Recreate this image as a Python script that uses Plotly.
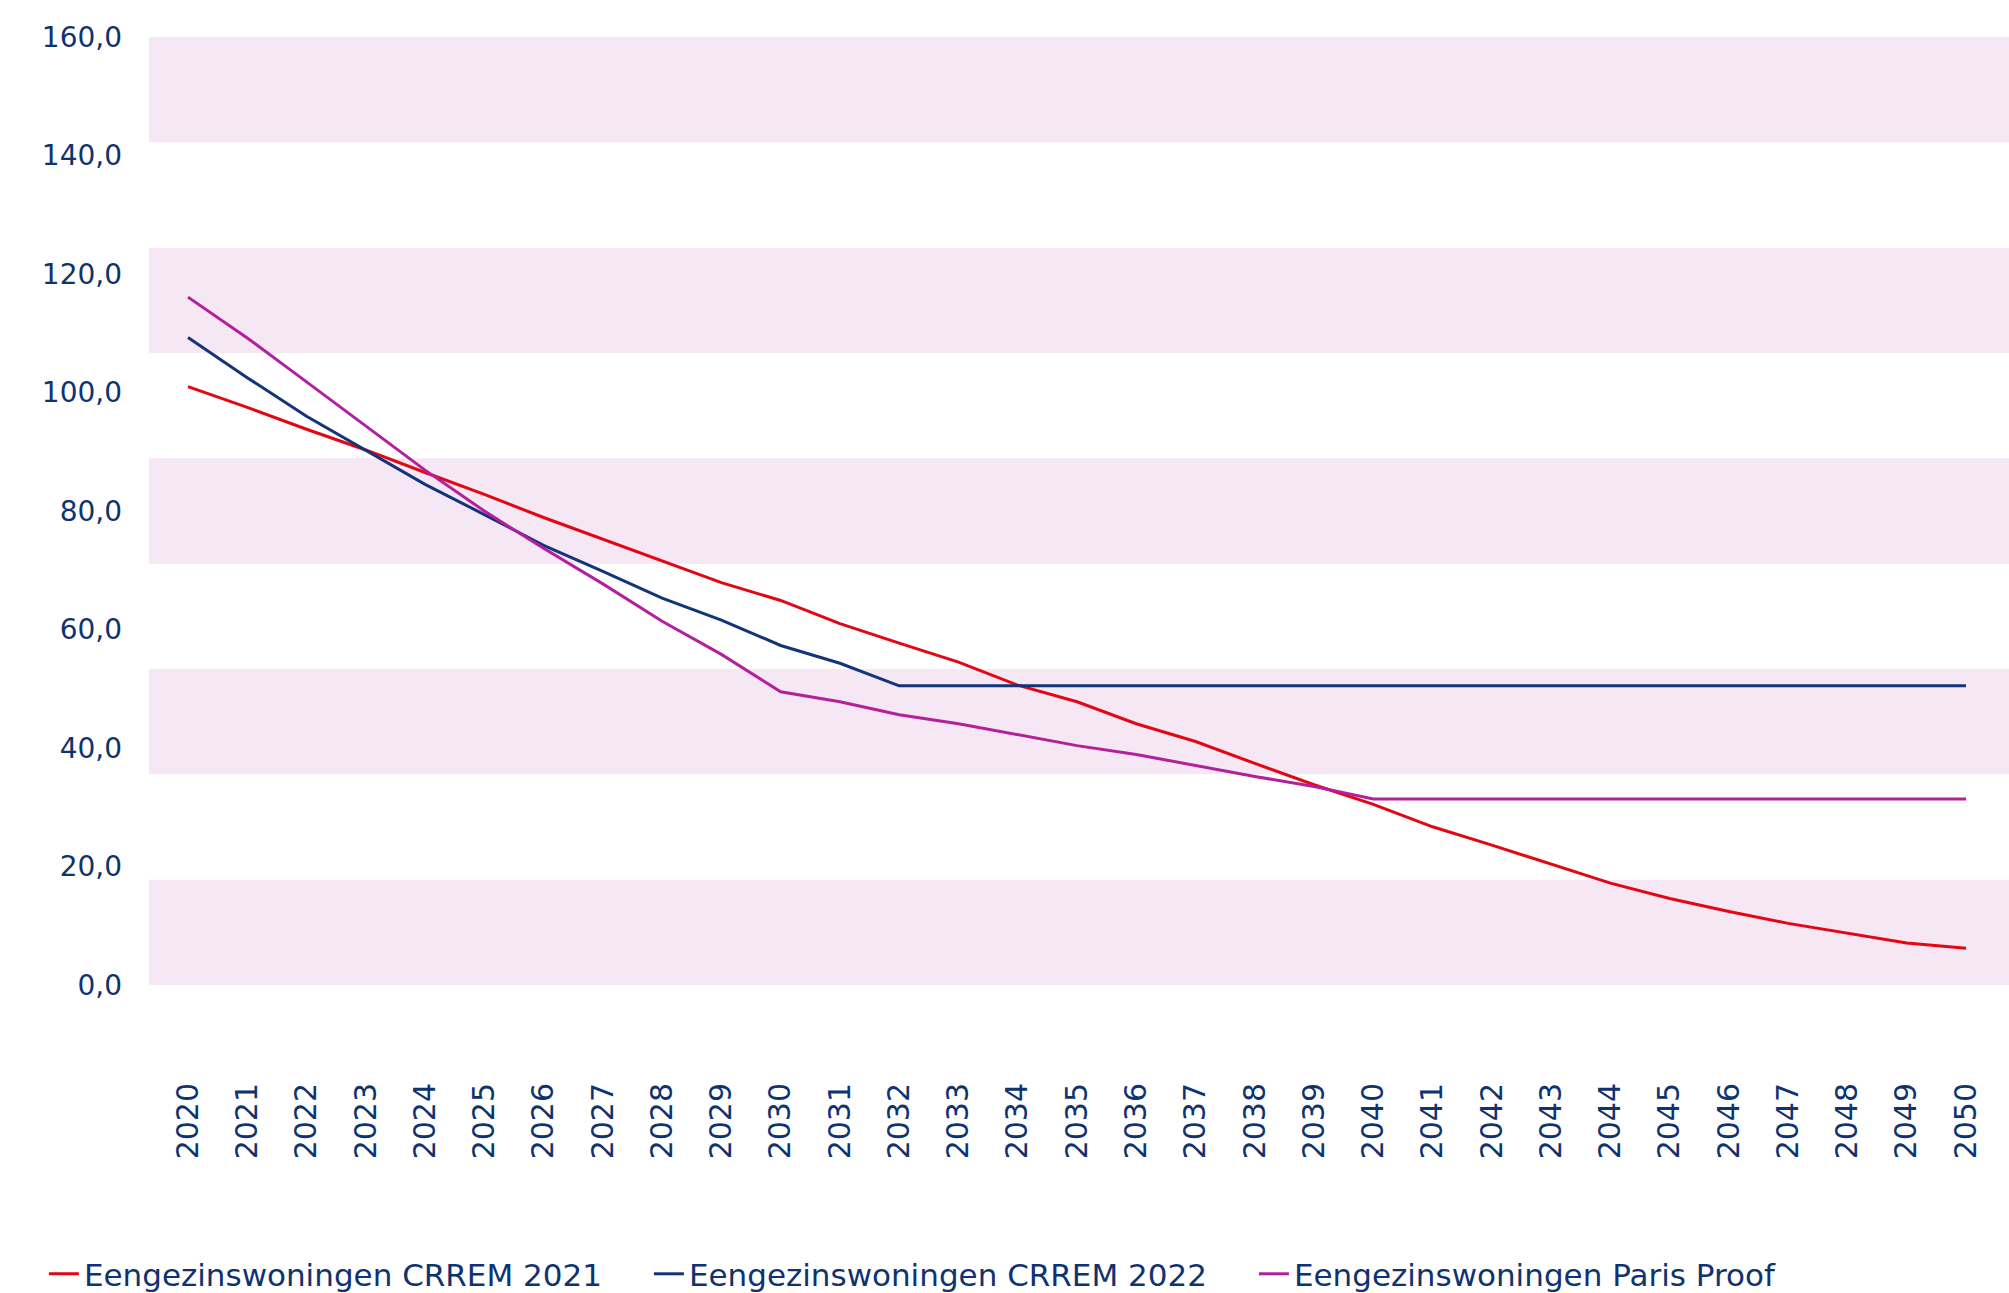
import plotly.graph_objects as go

# ---- data ----
years = list(range(2020, 2051))

crrem_2021 = [101.0, 97.5, 93.8, 90.3, 86.5, 82.8, 78.9, 75.2, 71.6, 67.9,
              64.9, 61.0, 57.7, 54.5, 50.6, 47.8, 44.1, 41.1, 37.4, 33.8,
              30.5, 26.7, 23.6, 20.4, 17.2, 14.6, 12.4, 10.4, 8.7, 7.1, 6.2]

crrem_2022 = [109.3, 102.5, 96.0, 90.2, 84.5, 79.4, 74.2, 69.8, 65.3, 61.6,
              57.3, 54.3, 50.5, 50.5, 50.5, 50.5, 50.5, 50.5, 50.5, 50.5,
              50.5, 50.5, 50.5, 50.5, 50.5, 50.5, 50.5, 50.5, 50.5, 50.5, 50.5]

paris_proof = [116.1, 109.2, 101.8, 94.3, 86.9, 80.0, 73.7, 67.7, 61.4, 55.8,
               49.5, 47.8, 45.6, 44.1, 42.2, 40.4, 38.9, 37.0, 35.2, 33.5,
               31.4, 31.4, 31.4, 31.4, 31.4, 31.4, 31.4, 31.4, 31.4, 31.4, 31.4]

series_names = ["Eengezinswoningen CRREM 2021",
                "Eengezinswoningen CRREM 2022",
                "Eengezinswoningen Paris Proof"]

y_ticks = [0, 20, 40, 60, 80, 100, 120, 140, 160]

# ---- style ----
RED = "#e30613"
NAVY = "#13347a"
MAGENTA = "#b41f9c"
BAND = "#f6e7f5"
TEXT = "#0f3270"
FONT = "DejaVu Sans"

fig = go.Figure()
for name, vals, col in zip(series_names, [crrem_2021, crrem_2022, paris_proof], [RED, NAVY, MAGENTA]):
    fig.add_trace(go.Scatter(x=years, y=vals, name=name, mode="lines",
                             line=dict(color=col, width=3)))

# alternating horizontal bands (9 equal stripes, pink at bottom)
ymax = y_ticks[-1]
n_bands = 9
for k in range(0, n_bands, 2):
    fig.add_shape(type="rect", xref="paper", yref="y", x0=0, x1=1,
                  y0=k * ymax / n_bands, y1=(k + 1) * ymax / n_bands,
                  fillcolor=BAND, line=dict(width=0), layer="below")

fig.update_layout(
    width=2009, height=1293,
    margin=dict(l=149, r=0, t=37, b=308, autoexpand=False),
    paper_bgcolor="white", plot_bgcolor="white",
    separators=", ",
    font=dict(family=FONT, color=TEXT, size=30),
    showlegend=True,
    legend=dict(orientation="h", x=-0.0565, xanchor="left", y=-0.305, yanchor="middle",
                font=dict(size=31, color=TEXT), bgcolor="rgba(0,0,0,0)",
                itemwidth=30, entrywidth=560, entrywidthmode="pixels"),
)
fig.update_xaxes(range=[2019.342, 2050.7255], tickmode="array", tickvals=years,
                 ticktext=[str(y) for y in years], tickangle=-90,
                 showgrid=False, zeroline=False, showline=False, ticks="",
                 ticklabelstandoff=91, tickfont=dict(size=30, color=TEXT))
fig.update_yaxes(range=[0, 160], tickmode="array", tickvals=y_ticks, tickformat=".1f",
                 showgrid=False, zeroline=False, showline=False, ticks="",
                 ticklabelstandoff=26, tickfont=dict(size=28, color=TEXT))

# remove the default page margin so the figure fills the window exactly
fig.write_html("out.html", config={"displayModeBar": False},
               post_script="document.body.style.margin='0';document.body.style.overflow='hidden';")
